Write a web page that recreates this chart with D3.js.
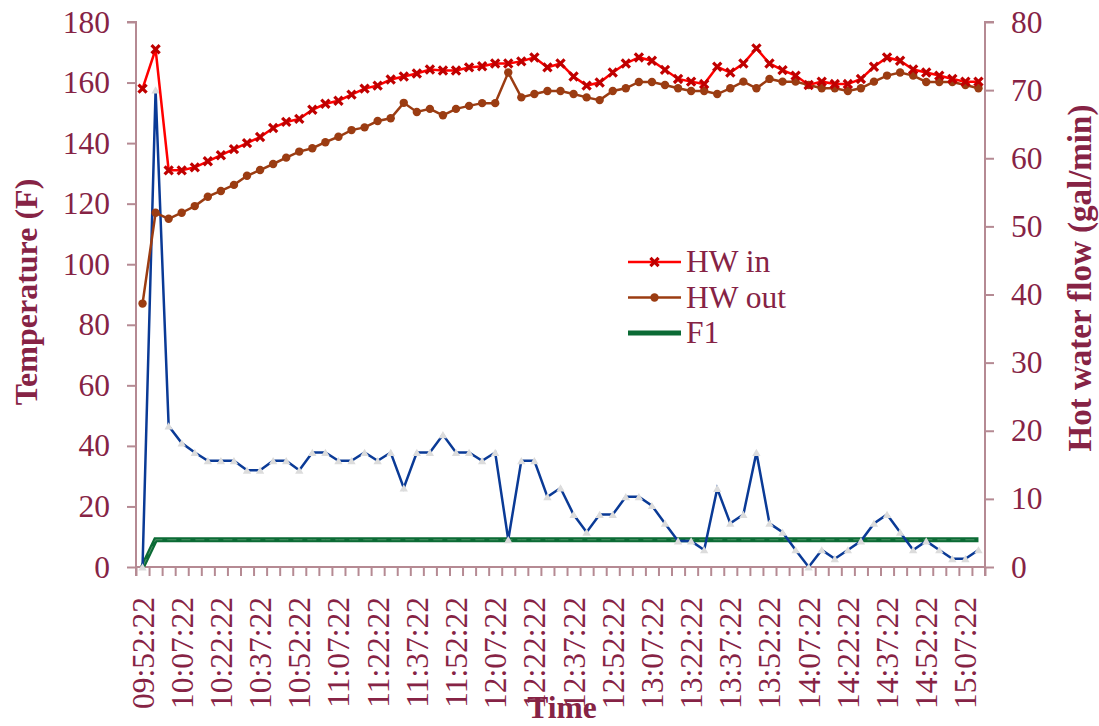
<!DOCTYPE html>
<html>
<head>
<meta charset="utf-8">
<script src="https://cdn.jsdelivr.net/npm/d3@7"></script>
<style>
  body { margin: 0; background: #fff; }
  svg { display: block; font-family: "Liberation Serif", "Times New Roman", serif; }
</style>
</head>
<body>
<svg id="chart" width="1099" height="726"></svg>
<script>
// time stamps, one every 5 minutes
const times = [
  "09:52:22","09:57:22","10:02:22","10:07:22","10:12:22","10:17:22","10:22:22","10:27:22","10:32:22","10:37:22",
  "10:42:22","10:47:22","10:52:22","10:57:22","11:02:22","11:07:22","11:12:22","11:17:22","11:22:22","11:27:22",
  "11:32:22","11:37:22","11:42:22","11:47:22","11:52:22","11:57:22","12:02:22","12:07:22","12:12:22","12:17:22",
  "12:22:22","12:27:22","12:32:22","12:37:22","12:42:22","12:47:22","12:52:22","12:57:22","13:02:22","13:07:22",
  "13:12:22","13:17:22","13:22:22","13:27:22","13:32:22","13:37:22","13:42:22","13:47:22","13:52:22","13:57:22",
  "14:02:22","14:07:22","14:12:22","14:17:22","14:22:22","14:27:22","14:32:22","14:37:22","14:42:22","14:47:22",
  "14:52:22","14:57:22","15:02:22","15:07:22","15:12:22"
];

// HW in (F)
const hwIn = [
  158,171,131,131,132,134,136,138,140,142,
  145,147,148,151,153,154,156,158,159,161,
  162,163,164.3,164,164,165,165.4,166.3,166.3,167,
  168.3,165,166.3,162,159,160,163.3,166.3,168.3,167.2,
  164.2,161.2,160.3,159.5,165.2,163.3,166.3,171.3,166.3,164.1,
  162.3,159.2,160.3,159.5,159.5,161.2,165.2,168.3,167.2,164.3,
  163.3,162.3,161.2,160.3,160.3
];

// HW out (F)
const hwOut = [
  87,117,115,117,119.2,122.3,124.2,126.2,129.2,131.1,
  133.1,135.2,137.2,138.3,140.3,142.1,144.3,145.2,147.3,148.2,
  153.3,150.3,151.3,149.2,151.3,152.3,153.2,153.2,163.3,155.1,
  156.2,157.2,157.2,156.2,155.1,154.2,157.2,158.1,160.2,160.2,
  159.2,158.1,157.2,157.2,156.2,158.1,160.3,158.1,161.2,160.3,
  160.3,159.2,158.1,158.1,157.2,158.1,160.3,162.3,163.3,162.3,
  160.2,160.2,160.2,159.2,158.1
];

// hot water flow (gal/min), right axis
const flow = [
  0,70,20.7,18.2,16.8,15.6,15.6,15.6,14.2,14.2,
  15.6,15.6,14.2,16.8,16.8,15.6,15.6,16.8,15.6,16.8,
  11.6,16.8,16.8,19.4,16.8,16.8,15.6,16.8,4.0,15.6,
  15.6,10.3,11.6,7.7,5.1,7.7,7.7,10.3,10.3,9.0,
  6.4,3.8,3.8,2.5,11.5,6.4,7.7,16.8,6.4,5.1,
  2.5,0,2.5,1.2,2.5,3.8,6.4,7.7,5.1,2.5,
  3.8,2.5,1.2,1.2,2.5
];

// F1, right axis
const f1 = [
  0,4,4,4,4,4,4,4,4,4, 4,4,4,4,4,4,4,4,4,4,
  4,4,4,4,4,4,4,4,4,4, 4,4,4,4,4,4,4,4,4,4,
  4,4,4,4,4,4,4,4,4,4, 4,4,4,4,4,4,4,4,4,4,
  4,4,4,4,4
];

const tempTicks = [0,20,40,60,80,100,120,140,160,180];
const flowTicks = [0,10,20,30,40,50,60,70,80];
const labelEvery = 3;

const textColor = "#862345";
const axisColor = "#b58a93";
const fs = "31.5px";

const svg = d3.select("#chart");
const plotL = 136, plotR = 985, plotT = 22, plotB = 567;

const x = d3.scaleBand().domain(d3.range(times.length)).range([plotL, plotR]).padding(0);
const xc = i => x(i) + x.bandwidth() / 2;
const yL = d3.scaleLinear().domain([0, 180]).range([plotB, plotT]);
const yR = d3.scaleLinear().domain([0, 80]).range([plotB, plotT]);

// left axis
const gL = svg.append("g").attr("transform", `translate(${plotL},0)`)
  .call(d3.axisLeft(yL).tickValues(tempTicks).tickSize(9).tickPadding(17));
// right axis
const gR = svg.append("g").attr("transform", `translate(${plotR},0)`)
  .call(d3.axisRight(yR).tickValues(flowTicks).tickSize(9).tickPadding(17));
// bottom axis: tick on every category boundary
const xEdge = d3.scaleLinear().domain([0, times.length]).range([plotL, plotR]);
const gB = svg.append("g").attr("transform", `translate(0,${plotB})`)
  .call(d3.axisBottom(xEdge).tickValues(d3.range(times.length + 1)).tickSize(9).tickFormat(""));

[gL, gR, gB].forEach(g => {
  g.select(".domain").attr("stroke", axisColor).attr("stroke-width", 2);
  g.selectAll(".tick line").attr("stroke", axisColor).attr("stroke-width", 2);
  g.selectAll(".tick text").attr("fill", textColor)
    .style("font-family", "'Liberation Serif', serif").style("font-size", fs);
});
// vertical axis lines run down past the x axis a little
gL.select(".domain").attr("d", `M-9,${plotT}H0V${plotB + 9}`);
gR.select(".domain").attr("d", `M9,${plotT}H0V${plotB + 9}`);
gB.select(".domain").attr("d", `M${plotL},0H${plotR}`);

// x tick labels
svg.append("g").selectAll("text")
  .data(times.map((t, i) => ({ t, i })).filter(d => d.i % labelEvery === 0))
  .join("text")
  .attr("transform", d => `translate(${xc(d.i) + 11},597) rotate(-90)`)
  .attr("text-anchor", "end")
  .attr("fill", textColor)
  .style("font-size", fs)
  .text(d => d.t);

// axis titles
svg.append("text")
  .attr("transform", "translate(37,292) rotate(-90)")
  .attr("text-anchor", "middle").attr("fill", textColor)
  .style("font-size", "32px").style("font-weight", "bold")
  .text("Temperature (F)");
svg.append("text")
  .attr("transform", "translate(1091,278) rotate(-90)")
  .attr("text-anchor", "middle").attr("fill", textColor)
  .style("font-size", "33px").style("font-weight", "bold")
  .text("Hot water flow (gal/min)");
svg.append("text")
  .attr("x", 562).attr("y", 718)
  .attr("text-anchor", "middle").attr("fill", textColor)
  .style("font-size", fs).style("font-weight", "bold")
  .text("Time");

// series
const lineL = d3.line().x((d, i) => xc(i)).y(d => yL(d));
const lineR = d3.line().x((d, i) => xc(i)).y(d => yR(d));

// F1
svg.append("path").datum(f1).attr("d", lineR)
  .attr("fill", "none").attr("stroke", "#0b6b35").attr("stroke-width", 5);
svg.append("path").datum(f1).attr("d", lineR)
  .attr("fill", "none").attr("stroke", "#4f9167").attr("stroke-width", 1)
  .attr("stroke-dasharray", "9,5");

// flow
svg.append("path").datum(flow).attr("d", lineR)
  .attr("fill", "none").attr("stroke", "#0a3a96").attr("stroke-width", 2.5);
svg.append("g").selectAll("path").data(flow).join("path")
  .attr("transform", (d, i) => `translate(${xc(i)},${yR(d) + 1})`)
  .attr("d", d3.symbol(d3.symbolTriangle, 30))
  .attr("fill", "#dcdcdc");

// HW out
svg.append("path").datum(hwOut).attr("d", lineL)
  .attr("fill", "none").attr("stroke", "#9b3c12").attr("stroke-width", 2.5);
svg.append("g").selectAll("circle").data(hwOut).join("circle")
  .attr("cx", (d, i) => xc(i)).attr("cy", d => yL(d)).attr("r", 4.2)
  .attr("fill", "#9b3c12");

// HW in
svg.append("path").datum(hwIn).attr("d", lineL)
  .attr("fill", "none").attr("stroke", "#ff0000").attr("stroke-width", 2.5);
svg.append("g").selectAll("path").data(hwIn).join("path")
  .attr("transform", (d, i) => `translate(${xc(i)},${yL(d)})`)
  .attr("d", d3.symbol(d3.symbolX, 45))
  .attr("fill", "none").attr("stroke", "#c00000").attr("stroke-width", 3.2);

// legend
const legend = [
  { name: "HW in", color: "#ff0000", mark: "x" },
  { name: "HW out", color: "#9b3c12", mark: "o" },
  { name: "F1", color: "#0b6b35", mark: "" }
];
const lg = svg.append("g");
legend.forEach((d, k) => {
  const yy = 262 + k * 35.5;
  lg.append("line").attr("x1", 628).attr("x2", 681).attr("y1", yy).attr("y2", yy)
    .attr("stroke", d.color).attr("stroke-width", d.mark === "" ? 5 : 2.5);
  if (d.mark === "x") {
    lg.append("path").attr("transform", `translate(654.5,${yy})`)
      .attr("d", d3.symbol(d3.symbolX, 45))
      .attr("fill", "none").attr("stroke", "#c00000").attr("stroke-width", 3.2);
  } else if (d.mark === "o") {
    lg.append("circle").attr("cx", 654.5).attr("cy", yy).attr("r", 4.2).attr("fill", d.color);
  }
  lg.append("text").attr("x", 686).attr("y", yy + 10)
    .attr("fill", textColor).style("font-size", fs).text(d.name);
});
</script>
</body>
</html>
